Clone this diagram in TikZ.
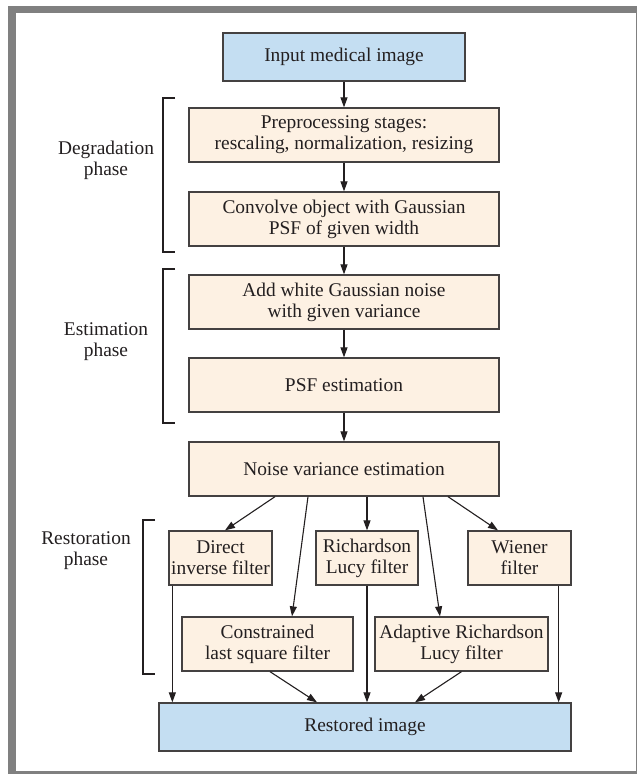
\documentclass[tikz,border=0pt]{standalone}
\usepackage{fontspec}
\setmainfont{Liberation Serif}
\newfontfamily\tmsfont{Liberation Serif}
\usetikzlibrary{arrows.meta}
\definecolor{bluefill}{RGB}{196,222,242}
\definecolor{beige}{RGB}{253,241,227}
\definecolor{framegray}{RGB}{128,128,128}
\definecolor{ink}{RGB}{35,31,32}
\tikzset{
  box/.style={draw=ink!85, line width=1.3pt, fill=beige, align=center, inner sep=0pt,
    font=\tmsfont\fontsize{19.4}{21}\selectfont, text=ink, minimum height=54pt},
  bluebox/.style={box, fill=bluefill, minimum height=48pt},
  arr/.style={draw=ink, line width=1.1pt, -{Triangle[length=10pt,width=7pt]}},
  brk/.style={draw=ink, line width=1.4pt},
  phase/.style={align=center, font=\tmsfont\fontsize{19.4}{21}\selectfont, text=ink, inner sep=0pt}
}
\begin{document}
\begin{tikzpicture}[x=1pt,y=-1pt]
\useasboundingbox (0,0) rectangle (637,774);
% frame
\fill[framegray] (8,6) rectangle (637,774);
\fill[white] (15.5,13.3) rectangle (635.6,770.6);

% main column
\node[bluebox, minimum width=242pt] (in) at (344,57) {Input medical image};
\node[box, minimum width=310pt] (pre) at (344,135) {Preprocessing stages:\\rescaling, normalization, resizing};
\node[box, minimum width=310pt] (conv) at (344,219) {Convolve object with Gaussian\\PSF of given width};
\node[box, minimum width=310pt] (add) at (344,302) {Add white Gaussian noise\\with given variance};
\node[box, minimum width=310pt] (psf) at (344,385) {PSF estimation};
\node[box, minimum width=310pt] (noise) at (344,469) {Noise variance estimation};

% filters
\node[box, minimum width=103pt] (direct) at (220.5,558) {Direct\\inverse filter};
\node[box, minimum width=102pt] (rich) at (367,558) {Richardson\\Lucy filter};
\node[box, minimum width=103pt] (wiener) at (519.5,558) {Wiener\\filter};
\node[box, minimum width=171pt] (cons) at (267.5,644) {Constrained\\last square filter};
\node[box, minimum width=173pt] (adapt) at (461.5,644) {Adaptive Richardson\\Lucy filter};

\node[bluebox, minimum width=412pt] (rest) at (365,727) {Restored image};

% phase labels
\node[phase] (deg) at (106,160) {Degradation\\phase};
\node[phase] (est) at (106,342) {Estimation\\phase};
\node[phase] (res) at (86,551) {Restoration\\phase};

% brackets
\draw[brk] (175,98) -- (163,98) -- (163,252) -- (175,252);
\draw[brk] (175,269) -- (163,269) -- (163,423) -- (175,423);
\draw[brk] (155,520) -- (143,520) -- (143,674) -- (155,674);

% vertical arrows
\draw[arr] (in) -- (pre);
\draw[arr] (pre) -- (conv);
\draw[arr] (conv) -- (add);
\draw[arr] (add) -- (psf);
\draw[arr] (psf) -- (noise);

% fan-out
\draw[arr] ([xshift=-69pt]noise.south) -- ([xshift=4.5pt]direct.north);
\draw[arr] ([xshift=-36pt]noise.south) -- ([xshift=24.5pt]cons.north);
\draw[arr] (rich.north |- noise.south) -- (rich.north);
\draw[arr] ([xshift=79pt]noise.south) -- ([xshift=-21.5pt]adapt.north);
\draw[arr] ([xshift=104pt]noise.south) -- ([xshift=-21.5pt]wiener.north);

% fan-in
\draw[arr] ([xshift=4pt]direct.south west) -- ([xshift=4pt]direct.south west |- rest.north);
\draw[arr] (rich.south) -- (rich.south |- rest.north);
\draw[arr] ([xshift=-13pt]wiener.south east) -- ([xshift=-13pt]wiener.south east |- rest.north);
\draw[arr] ([xshift=2.5pt]cons.south) -- ([xshift=-48pt]rest.north);
\draw[arr] (adapt.south) -- ([xshift=50pt]rest.north);
\end{tikzpicture}
\end{document}
